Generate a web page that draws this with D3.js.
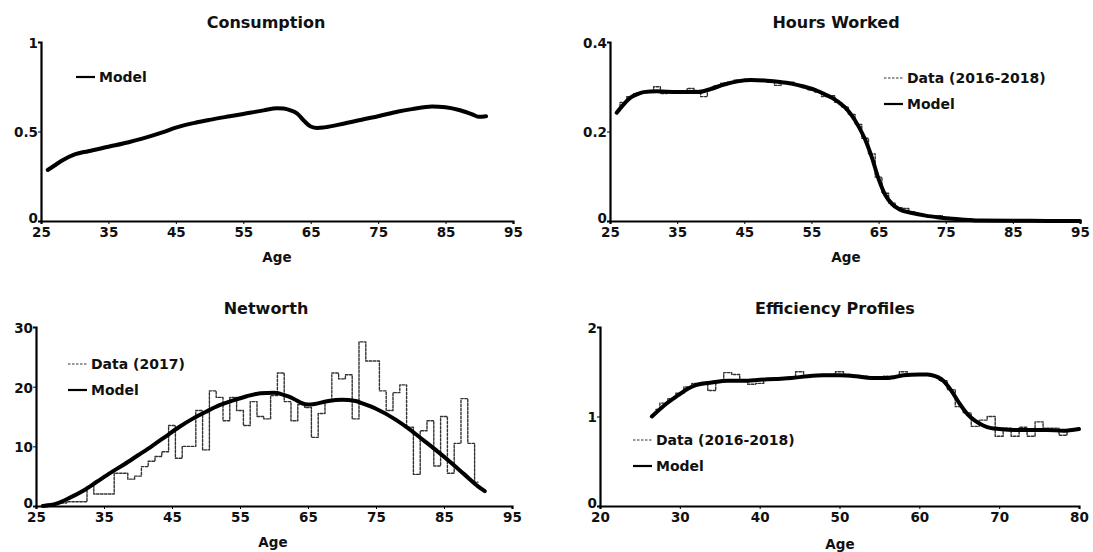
<!DOCTYPE html>
<html>
<head>
<meta charset="utf-8">
<script src="https://cdn.jsdelivr.net/npm/d3@7"></script>
<style>
  body { margin: 0; background: #fff; }
  svg { display: block; }
  text { font-family: "DejaVu Sans", Verdana, sans-serif; font-weight: bold; fill: #111; }
  .axis path, .axis line { stroke: #000; }
  .axis text { font-size: 13.5px; }
</style>
</head>
<body>
<svg id="chart" width="1093" height="552"></svg>
<script>
// Tick labels
const ageTicks = [25, 35, 45, 55, 65, 75, 85, 95];
const effAgeTicks = [20, 30, 40, 50, 60, 70, 80];
const consTicks = [0, 0.5, 1];
const hoursTicks = [0, 0.2, 0.4];
const netTicks = [0, 10, 20, 30];
const effTicks = [0, 1, 2];

// Consumption (model)
const consAge = [26, 27, 28, 30, 32, 35, 38, 40, 43, 45, 48, 50, 53, 55, 58, 60, 61, 62, 63, 64, 65, 66, 67, 70, 73, 75, 78, 80, 83, 85, 87, 89, 90, 91];
const consModel = [0.285, 0.31, 0.335, 0.372, 0.39, 0.415, 0.44, 0.46, 0.495, 0.522, 0.55, 0.565, 0.585, 0.598, 0.618, 0.63, 0.628, 0.618, 0.60, 0.56, 0.528, 0.52, 0.523, 0.545, 0.57, 0.585, 0.612, 0.625, 0.64, 0.635, 0.62, 0.595, 0.582, 0.585];

// Hours worked
const hoursAge = [26, 27, 28, 29, 30, 32, 35, 38, 40, 42, 44, 46, 48, 50, 52, 54, 56, 57, 58, 59, 60, 61, 62, 63, 64, 65, 66, 67, 68, 70, 72, 74, 76, 78, 80, 85, 90, 95];
const hoursModel = [0.242, 0.26, 0.275, 0.283, 0.288, 0.29, 0.288, 0.288, 0.295, 0.305, 0.312, 0.315, 0.314, 0.311, 0.307, 0.300, 0.290, 0.283, 0.276, 0.266, 0.254, 0.236, 0.212, 0.182, 0.142, 0.094, 0.058, 0.038, 0.027, 0.018, 0.012, 0.008, 0.005, 0.003, 0.001, 0.0005, 0.0002, 0];
const hoursDataAge = d3.range(26, 91);
const hoursData = [0.245, 0.265, 0.278, 0.285, 0.288, 0.29, 0.30, 0.285, 0.287, 0.288, 0.288, 0.296, 0.292, 0.278, 0.295, 0.302, 0.308, 0.31, 0.315, 0.315, 0.315, 0.313, 0.313, 0.31, 0.303, 0.308, 0.31, 0.303, 0.298, 0.293, 0.288, 0.278, 0.28, 0.265, 0.255, 0.238, 0.216, 0.185, 0.15, 0.098, 0.062, 0.04, 0.03, 0.028, 0.02, 0.015, 0.012, 0.01, 0.012, 0.008, 0.006, 0.005, 0.003, 0.002, 0.001, 0.001, 0.001, 0.001, 0.002, 0.002, 0.001, 0.001, 0.001, 0.001, 0.001];

// Networth
const netAge = [26, 28, 30, 32, 34, 36, 38, 40, 42, 44, 46, 48, 50, 52, 54, 56, 58, 60, 62, 63, 64, 65, 66, 68, 70, 72, 73, 75, 78, 80, 82, 84, 86, 88, 90, 91];
const netModel = [0.0, 0.4, 1.4, 2.6, 4.1, 5.6, 7.0, 8.5, 10.0, 11.6, 13.2, 14.6, 15.8, 16.9, 17.7, 18.4, 18.9, 19.0, 18.4, 17.9, 17.3, 17.0, 17.1, 17.6, 17.8, 17.6, 17.2, 16.3, 14.4, 12.8, 11.0, 9.2, 7.3, 5.3, 3.3, 2.5];
const netDataAge = d3.range(26, 91);
const netData = [0.2, 0.3, 0.4, 0.5, 0.7, 0.7, 0.7, 3.3, 2.0, 2.0, 2.0, 5.5, 5.5, 4.5, 5.0, 6.6, 7.5, 8.3, 9.1, 13.5, 8.0, 10.0, 10.0, 16.0, 9.4, 19.3, 18.2, 14.3, 18.2, 16.0, 13.5, 17.5, 15.0, 14.6, 18.5, 22.3, 17.5, 14.3, 17.0, 16.5, 11.5, 15.5, 17.6, 22.3, 21.3, 22.0, 14.6, 27.5, 24.3, 24.3, 19.3, 16.0, 19.0, 20.3, 13.2, 5.3, 12.6, 14.3, 6.7, 15.0, 5.5, 10.5, 18.0, 10.5, 4.0];

// Efficiency profiles
const effAge = [26.5, 28, 30, 31, 32, 34, 36, 38, 40, 42, 44, 46, 48, 50, 52, 54, 56, 58, 60, 61, 62, 63, 64, 65, 66, 67, 68, 69, 70, 72, 74, 76, 78, 80];
const effModel = [1.0, 1.12, 1.25, 1.31, 1.35, 1.38, 1.40, 1.40, 1.41, 1.42, 1.43, 1.45, 1.46, 1.46, 1.45, 1.43, 1.43, 1.46, 1.47, 1.47, 1.45, 1.40, 1.29, 1.15, 1.03, 0.95, 0.90, 0.87, 0.86, 0.85, 0.85, 0.85, 0.84, 0.86];
const effDataAge = d3.range(27, 81);
const effData = [1.08, 1.15, 1.2, 1.26, 1.33, 1.37, 1.38, 1.29, 1.4, 1.49, 1.47, 1.4, 1.36, 1.37, 1.42, 1.42, 1.43, 1.44, 1.5, 1.45, 1.46, 1.47, 1.47, 1.5, 1.47, 1.46, 1.45, 1.44, 1.43, 1.45, 1.45, 1.5, 1.47, 1.47, 1.47, 1.45, 1.4, 1.3, 1.11, 1.04, 0.89, 0.96, 1.0, 0.78, 0.87, 0.78, 0.88, 0.78, 0.94, 0.87, 0.87, 0.79, 0.85, 0.85];

const svg = d3.select('#chart');

// Panel layout (pixels)
const panels = [
    { title: 'Consumption', box: [41, 513, 42, 221], xDomain: [25, 95], xTicks: ageTicks, yDomain: [0, 1], yTicks: consTicks,
      titlePos: [266, 28], agePos: [277, 262], legendPos: [76, 77],
      series: [{ name: 'Model', x: consAge, y: consModel, kind: 'model' }], legend: ['Model'] },
    { title: 'Hours Worked', box: [610, 1080, 42, 221], xDomain: [25, 95], xTicks: ageTicks, yDomain: [0, 0.4], yTicks: hoursTicks,
      titlePos: [836, 28], agePos: [846, 262], legendPos: [884, 78],
      series: [{ name: 'Data (2016-2018)', x: hoursDataAge, y: hoursData, kind: 'data' },
               { name: 'Model', x: hoursAge, y: hoursModel, kind: 'model' }], legend: ['Data (2016-2018)', 'Model'] },
    { title: 'Networth', box: [36, 512, 327, 506], xDomain: [25, 95], xTicks: ageTicks, yDomain: [0, 30], yTicks: netTicks,
      titlePos: [266, 314], agePos: [273, 547], legendPos: [68, 364],
      series: [{ name: 'Data (2017)', x: netDataAge, y: netData, kind: 'data' },
               { name: 'Model', x: netAge, y: netModel, kind: 'model' }], legend: ['Data (2017)', 'Model'] },
    { title: 'Efficiency Profiles', box: [600, 1079, 327, 506], xDomain: [20, 80], xTicks: effAgeTicks, yDomain: [0, 2], yTicks: effTicks,
      titlePos: [835, 314], agePos: [840, 549], legendPos: [633, 440],
      series: [{ name: 'Data (2016-2018)', x: effDataAge, y: effData, kind: 'data' },
               { name: 'Model', x: effAge, y: effModel, kind: 'model' }], legend: ['Data (2016-2018)', 'Model'] }
];

const styles = {
    data: { stroke: '#333', width: 1.4, dash: '2.5,1.5', curve: d3.curveStep },
    model: { stroke: '#000', width: 4, dash: null, curve: d3.curveMonotoneX }
};

panels.forEach(p => {
    const [x0, x1, yTop, yBot] = p.box;
    const x = d3.scaleLinear().domain(p.xDomain).range([x0, x1]);
    const y = d3.scaleLinear().domain(p.yDomain).range([yBot, yTop]);
    const g = svg.append('g');

    // Lines
    p.series.forEach(s => {
        const st = styles[s.kind];
        const pts = s.x.map((a, i) => [a, s.y[i]]);
        g.append('path')
            .datum(pts)
            .attr('fill', 'none')
            .attr('stroke', st.stroke)
            .attr('stroke-width', st.width)
            .attr('stroke-dasharray', st.dash)
            .attr('stroke-linejoin', 'round')
            .attr('stroke-linecap', 'round')
            .attr('d', d3.line().x(d => x(d[0])).y(d => y(d[1])).curve(st.curve));
    });

    // Axes
    const xAxis = g.append('g')
        .attr('class', 'axis')
        .attr('transform', `translate(0,${yBot})`)
        .call(d3.axisBottom(x).tickValues(p.xTicks).tickSize(3).tickPadding(3).tickFormat(d3.format('d')));
    xAxis.select('.domain').attr('stroke-width', 2.2);

    const yAxis = g.append('g')
        .attr('class', 'axis')
        .attr('transform', `translate(${x0},0)`)
        .call(d3.axisLeft(y).tickValues(p.yTicks).tickSize(3).tickPadding(0).tickFormat(d3.format('~g')));
    yAxis.select('.domain').attr('stroke-width', 2.2);
    // the zero label sits just above the x tick labels
    yAxis.selectAll('.tick text').attr('dy', d => d === 0 ? '0.1em' : '0.4em');

    // Titles
    g.append('text')
        .attr('x', p.titlePos[0]).attr('y', p.titlePos[1])
        .attr('text-anchor', 'middle')
        .style('font-size', '16px')
        .text(p.title);
    g.append('text')
        .attr('x', p.agePos[0]).attr('y', p.agePos[1])
        .attr('text-anchor', 'middle')
        .style('font-size', '13.5px')
        .text('Age');

    // Legend
    const lg = g.append('g').attr('transform', `translate(${p.legendPos[0]},${p.legendPos[1]})`);
    p.legend.forEach((name, i) => {
        const s = p.series.find(d => d.name === name);
        const st = styles[s.kind];
        const row = lg.append('g').attr('transform', `translate(0,${i * 26})`);
        row.append('line')
            .attr('x1', 0).attr('x2', 19)
            .attr('stroke', st.stroke)
            .attr('stroke-width', s.kind === 'model' ? 2.2 : 1.2)
            .attr('stroke-dasharray', st.dash);
        row.append('text')
            .attr('x', 23).attr('y', 0)
            .attr('dy', '0.35em')
            .style('font-size', '14px')
            .text(name);
    });
});
</script>
</body>
</html>
